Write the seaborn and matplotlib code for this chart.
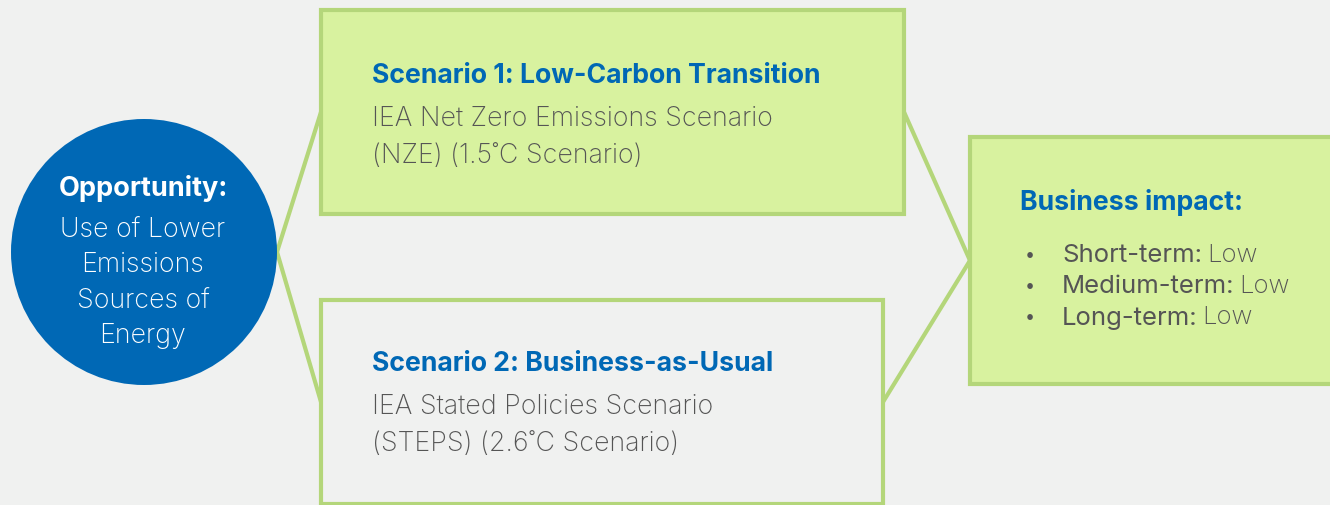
import matplotlib
matplotlib.use("Agg")
import matplotlib.pyplot as plt
from matplotlib.patches import Circle, Rectangle
import seaborn as sns

# text content
opportunity_title = "Opportunity:"
opportunity_lines = ["Use of Lower", "Emissions", "Sources of", "Energy"]
scenario_titles = ["Scenario 1: Low-Carbon Transition", "Scenario 2: Business-as-Usual"]
scenario_lines = [
    ["IEA Net Zero Emissions Scenario", "(NZE) (1.5\u02daC Scenario)"],
    ["IEA Stated Policies Scenario", "(STEPS) (2.6\u02daC Scenario)"],
]
impact_title = "Business impact:"
impact_terms = ["Short-term:", "Medium-term:", "Long-term:"]
impact_levels = ["Low", "Low", "Low"]

BG = "#f0f1f0"
BLUE = "#0068b5"
GREEN_FILL = "#d8f29f"
GREEN_EDGE = "#b4d67a"
GREY = "#555555"

sns.set_theme(style="white")
plt.rcParams["font.family"] = ["Inter", "DejaVu Sans"]

fig = plt.figure(figsize=(13.3, 5.06), dpi=100, facecolor=BG)
ax = fig.add_axes([0, 0, 1, 1])
ax.set_facecolor(BG)
ax.set_xlim(0, 1330)
ax.set_ylim(506, 0)
ax.axis("off")

# connectors
circ_c, circ_r = (144, 253), 133
box1 = (321, 11, 904, 215)
box2 = (321, 301, 883, 505)
box3 = (970, 138, 1340, 385)
mid = lambda b: (b[1] + b[3]) / 2
lines = [
    [(circ_c[0] + circ_r, circ_c[1]), (box1[0], mid(box1))],
    [(circ_c[0] + circ_r, circ_c[1]), (box2[0], mid(box2))],
    [(box1[2], mid(box1)), (box3[0], mid(box3))],
    [(box2[2], mid(box2)), (box3[0], mid(box3))],
]
for (x0, y0), (x1, y1) in lines:
    sns.lineplot(x=[x0, x1], y=[y0, y1], ax=ax, color=GREEN_EDGE, lw=3, zorder=1)

for b, fc in [(box1, GREEN_FILL), (box2, BG), (box3, GREEN_FILL)]:
    ax.add_patch(Rectangle((b[0], b[1]), b[2] - b[0], b[3] - b[1], facecolor=fc,
                           edgecolor=GREEN_EDGE, lw=3, zorder=2))

ax.add_patch(Circle(circ_c, circ_r, facecolor=BLUE, edgecolor="none", zorder=3))

# circle text
ax.text(143, 188, opportunity_title, color="white", fontsize=19.5, fontweight="bold",
        ha="center", va="center", zorder=4)
for i, s in enumerate(opportunity_lines):
    ax.text(143, 230 + i * 35.3, s, color="white", fontsize=19.3, fontweight="light",
            ha="center", va="center", zorder=4)

# scenario boxes
for title, sub, y0 in zip(scenario_titles, scenario_lines, [76, 364]):
    ax.text(372, y0, title, color=BLUE, fontsize=19.2, fontweight="bold",
            ha="left", va="center", zorder=4)
    for j, s in enumerate(sub):
        ax.text(372, y0 + 43 + j * 37, s, color=GREY, fontsize=19.3, fontweight="light",
                ha="left", va="center", zorder=4)

# impact box
ax.text(1020, 202, impact_title, color=BLUE, fontsize=19.2, fontweight="bold",
        ha="left", va="center", zorder=4)
fig.canvas.draw()
renderer = fig.canvas.get_renderer()
inv = ax.transData.inverted()
for i, (term, level) in enumerate(zip(impact_terms, impact_levels)):
    y = 255 + i * 31.5
    ax.text(1030, y, "\u2022", color=GREY, fontsize=13, ha="center", va="center", zorder=4)
    t = ax.text(1062, y, term, color=GREY, fontsize=18.5, fontweight="normal",
                ha="left", va="center", zorder=4)
    bb = t.get_window_extent(renderer)
    x_end = inv.transform((bb.x1, bb.y0))[0]
    ax.text(x_end + 5, y, level, color=GREY, fontsize=18.5, fontweight="light",
            ha="left", va="center", zorder=4)

fig.savefig("out.png", dpi=100, facecolor=BG)
